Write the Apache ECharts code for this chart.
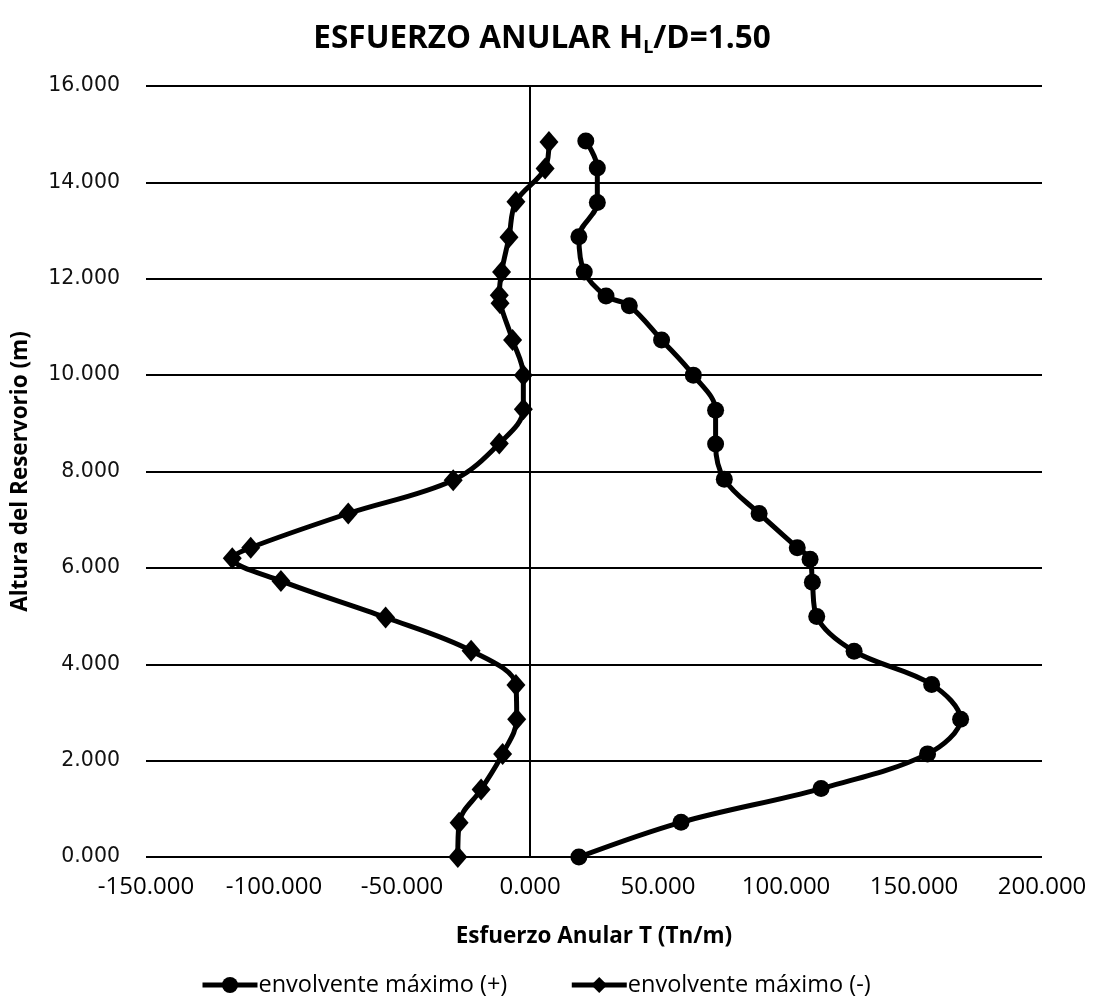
<!DOCTYPE html>
<html>
<head>
<meta charset="utf-8">
<script src="https://cdn.jsdelivr.net/npm/echarts@6/dist/echarts.min.js"></script>
<style>html,body{margin:0;padding:0;background:#fff}#c{width:1101px;height:1008px}</style>
</head>
<body>
<div id="c"></div>
<script>
var heightsPos = [0, 0.72, 1.42, 2.14, 2.86, 3.58, 4.27, 4.99, 5.70, 6.18, 6.42, 7.13, 7.84, 8.57, 9.27, 10.00, 10.73, 11.44, 11.64, 12.14, 12.87, 13.58, 14.30, 14.86];
var valuesPos = [19.1, 59.0, 113.7, 155.3, 168.2, 156.9, 126.6, 112.0, 110.3, 109.4, 104.4, 89.5, 75.9, 72.5, 72.5, 63.8, 51.4, 38.8, 29.7, 21.2, 19.1, 26.3, 26.3, 21.8];
var heightsNeg = [0, 0.71, 1.40, 2.14, 2.86, 3.57, 4.28, 4.97, 5.73, 6.20, 6.42, 7.13, 7.82, 8.58, 9.29, 10.00, 10.73, 11.49, 11.66, 12.14, 12.86, 13.60, 14.29, 14.84];
var valuesNeg = [-28.2, -27.7, -19.1, -10.7, -5.2, -5.5, -23.0, -56.4, -97.3, -116.3, -109.1, -71.0, -30.0, -12.0, -2.6, -2.6, -6.8, -11.7, -12.0, -11.1, -8.2, -5.5, 5.9, 7.4];
var seriesNames = ['envolvente máximo (+)', 'envolvente máximo (-)'];
var titleText = 'ESFUERZO ANULAR H';
var xName = 'Esfuerzo Anular T (Tn/m)';
var yName = 'Altura del Reservorio (m)';

function pairs(xs, hs) { return xs.map(function (v, i) { return [v, hs[i]]; }); }

var chart = echarts.init(document.getElementById('c'), null, { renderer: 'canvas' });
chart.setOption({
  animation: false,
  backgroundColor: '#fff',
  title: {
    text: '{t|' + titleText + '}{s|L}{t|/D=1.50}',
    left: 537, top: 16, textAlign: 'center',
    textStyle: {
      rich: {
        t: { fontFamily: 'Open Sans', fontWeight: 'bold', fontSize: 31.5, color: '#000' },
        s: { fontFamily: 'Open Sans', fontWeight: 'bold', fontSize: 18, color: '#000', verticalAlign: 'bottom', padding: [18, 0, 0, 0] }
      }
    }
  },
  legend: {
    bottom: 6, left: 195,
    itemWidth: 55, itemHeight: 20, itemGap: 62,
    lineStyle: { width: 5 },
    textStyle: { fontFamily: 'Open Sans', fontSize: 23.5, color: '#000', padding: [0, 0, 0, -4] },
    data: seriesNames
  },
  grid: { left: 146, right: 59, top: 86, bottom: 151, containLabel: false },
  xAxis: {
    type: 'value', min: -150, max: 200, interval: 50,
    name: xName, nameLocation: 'middle', nameGap: 68,
    nameTextStyle: { fontFamily: 'Open Sans', fontWeight: 'bold', fontSize: 22.5, color: '#000' },
    axisLine: { show: false, onZero: false },
    axisTick: { show: false },
    splitLine: { show: false },
    axisLabel: { fontFamily: 'Open Sans', fontSize: 24, color: '#000', margin: 18,
      formatter: function (v) { return v.toFixed(3); } }
  },
  yAxis: {
    type: 'value', min: 0, max: 16, interval: 2,
    name: yName, nameLocation: 'middle', nameGap: 114,
    nameTextStyle: { fontFamily: 'Open Sans', fontWeight: 'bold', fontSize: 22.5, color: '#000' },
    axisLine: { show: false, onZero: false },
    axisTick: { show: false },
    splitLine: { show: true, lineStyle: { color: '#000', width: 2 } },
    axisLabel: { fontFamily: 'DejaVu Sans', fontSize: 20.5, color: '#111', margin: 26,
      formatter: function (v) { return v.toFixed(3); } }
  },
  series: [
    {
      name: seriesNames[0], type: 'line', data: pairs(valuesPos, heightsPos),
      smooth: 0.35, symbol: 'circle', symbolSize: 17,
      lineStyle: { color: '#000', width: 5 }, itemStyle: { color: '#000' },
      markLine: {
        silent: true, symbol: 'none', label: { show: false },
        lineStyle: { color: '#000', width: 2, type: 'solid' },
        data: [{ xAxis: 0 }]
      }
    },
    {
      name: seriesNames[1], type: 'line', data: pairs(valuesNeg, heightsNeg),
      smooth: 0.35, symbol: 'diamond', symbolSize: [19, 22],
      lineStyle: { color: '#000', width: 5 }, itemStyle: { color: '#000' }
    }
  ]
});
</script>
</body>
</html>
